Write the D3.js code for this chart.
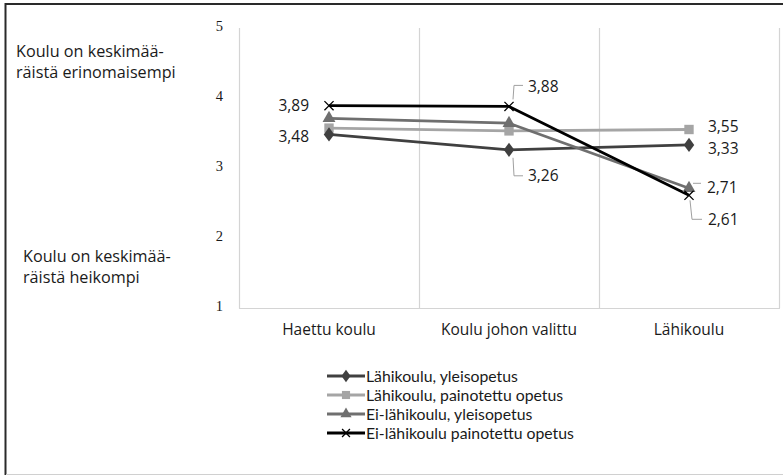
<!DOCTYPE html>
<html>
<head>
<meta charset="utf-8">
<script src="https://cdn.jsdelivr.net/npm/d3@7"></script>
<style>
  html, body { margin: 0; padding: 0; background: #fff; }
  svg { display: block; }
</style>
</head>
<body>
<svg id="chart" width="783" height="475"></svg>
<script>
// Categories along the x axis
const categories = ["Haettu koulu", "Koulu johon valittu", "Lähikoulu"];

// Series names (legend order)
const seriesNames = [
  "Lähikoulu, yleisopetus",
  "Lähikoulu, painotettu opetus",
  "Ei-lähikoulu, yleisopetus",
  "Ei-lähikoulu painotettu opetus"
];

// Mean scores per series
const lahiYleis = [3.48, 3.26, 3.33];
const lahiPainotettu = [3.57, 3.53, 3.55];
const eiLahiYleis = [3.71, 3.64, 2.71];
const eiLahiPainotettu = [3.89, 3.88, 2.61];

// Y-axis ticks
const yTicks = [1, 2, 3, 4, 5];

// Side annotations
const topNote = ["Koulu on keskimää-", "räistä erinomaisempi"];
const bottomNote = ["Koulu on keskimää-", "räistä heikompi"];

// Which points carry a value label: [series index, category index]
const labelled = [[3, 0], [0, 0], [3, 1], [0, 1], [1, 2], [0, 2], [2, 2], [3, 2]];

const seriesValues = [lahiYleis, lahiPainotettu, eiLahiYleis, eiLahiPainotettu];
const colors = ["#404040", "#a5a5a5", "#6f6f6f", "#000000"];
const shapes = ["diamond", "square", "triangle", "cross"];

const svg = d3.select("#chart");
const font = "'Open Sans', Lato, sans-serif";
const legendFont = "Lato, 'Open Sans', sans-serif";

// Outer frame (left, top and bottom edges)
svg.append("line").attr("x1", 5.5).attr("x2", 5.5).attr("y1", 3).attr("y2", 475)
  .attr("stroke", "#2a2a2a").attr("stroke-width", 2);
svg.append("line").attr("x1", 5).attr("x2", 783).attr("y1", 4).attr("y2", 4)
  .attr("stroke", "#2a2a2a").attr("stroke-width", 2);
svg.append("line").attr("x1", 6).attr("x2", 783).attr("y1", 474.5).attr("y2", 474.5)
  .attr("stroke", "#d0d0d0").attr("stroke-width", 1);

const plot = { left: 239, right: 779, top: 28, bottom: 308 };

const x = d3.scaleBand().domain(categories).range([plot.left, plot.right]).padding(0);
const y = d3.scaleLinear().domain([1, 5]).range([plot.bottom, plot.top]);
const cx = c => x(c) + x.bandwidth() / 2;

// Vertical category separators
svg.append("g").selectAll("line")
  .data(categories)
  .join("line")
  .attr("x1", d => x(d) + x.bandwidth() + 0.5)
  .attr("x2", d => x(d) + x.bandwidth() + 0.5)
  .attr("y1", plot.top).attr("y2", plot.bottom)
  .attr("stroke", "#d4d4d4").attr("stroke-width", 1.2);

// Axis lines
svg.append("line").attr("x1", plot.left + 0.5).attr("x2", plot.left + 0.5)
  .attr("y1", plot.top).attr("y2", plot.bottom + 0.5)
  .attr("stroke", "#d4d4d4").attr("stroke-width", 1.2);
svg.append("line").attr("x1", plot.left).attr("x2", plot.right + 1)
  .attr("y1", plot.bottom + 0.5).attr("y2", plot.bottom + 0.5)
  .attr("stroke", "#d4d4d4").attr("stroke-width", 1.2);

// Y tick labels
const yAxis = d3.axisLeft(y).tickValues(yTicks).tickSize(0).tickPadding(16)
  .tickFormat(d3.format("d"));
const yG = svg.append("g").attr("transform", `translate(${plot.left},0)`).call(yAxis);
yG.select(".domain").remove();
yG.selectAll("text").attr("font-family", "'Liberation Serif', 'Times New Roman', serif")
  .attr("font-size", 14.5).attr("fill", "#1a1a1a").attr("dy", "0.2em");

// X category labels
const xAxis = d3.axisBottom(x).tickSize(0).tickPadding(16);
const xG = svg.append("g").attr("transform", `translate(0,${plot.bottom})`).call(xAxis);
xG.select(".domain").remove();
xG.selectAll("text").attr("font-family", font).attr("font-size", 15.5).attr("fill", "#1a1a1a");

// Side annotations
function note(lines, x0, y0) {
  const t = svg.append("text").attr("font-family", font).attr("font-size", 16.2).attr("fill", "#1a1a1a");
  lines.forEach((l, i) => t.append("tspan").attr("x", x0).attr("y", y0 + i * 21).text(l));
}
note(topNote, 16, 57);
note(bottomNote, 23, 262);

// Marker drawing
function marker(g, shape, color, s) {
  if (shape === "diamond") {
    g.append("path").attr("d", d3.symbol(d3.symbolDiamond, s * 9)()).attr("fill", color)
      .attr("transform", "scale(1.15,0.9)");
  } else if (shape === "square") {
    g.append("path").attr("d", d3.symbol(d3.symbolSquare, s * 11)()).attr("fill", color);
  } else if (shape === "triangle") {
    g.append("path").attr("d", d3.symbol(d3.symbolTriangle, s * 9)()).attr("fill", color);
  } else {
    g.append("path").attr("d", d3.symbol(d3.symbolX, s * 7)()).attr("fill", "none")
      .attr("stroke", color).attr("stroke-width", 1.3);
  }
}

// Lines, drawn lightest series first so darker lines sit on top
const line = d3.line().x((d, i) => cx(categories[i])).y(d => y(d));
const drawOrder = [1, 0, 2, 3];
drawOrder.forEach(si => {
  svg.append("path").datum(seriesValues[si]).attr("d", line)
    .attr("fill", "none").attr("stroke", colors[si]).attr("stroke-width", 2.8)
    .attr("stroke-linejoin", "round");
});
drawOrder.forEach(si => {
  seriesValues[si].forEach((v, i) => {
    const g = svg.append("g").attr("transform", `translate(${cx(categories[i])},${y(v)})`);
    marker(g, shapes[si], colors[si], 8);
  });
});

// Value labels with leader lines
const fmt = v => d3.format(".2f")(v).replace(".", ",");
const labelLayer = svg.append("g").attr("font-family", font).attr("font-size", 15.5).attr("fill", "#1a1a1a");
const lead = svg.append("g").attr("stroke", "#a0a0a0").attr("stroke-width", 1).attr("fill", "none");
labelled.forEach(([si, ci]) => {
  const v = seriesValues[si][ci];
  const px = cx(categories[ci]);
  const py = y(v);
  let tx, ty, anchor = "start";
  if (ci === 0) {
    tx = px - 20; ty = py + (si === 0 ? 2 : 0); anchor = "end";
  } else if (ci === 1 && si === 3) {
    lead.append("path").attr("d", `M${px + 4},${py - 7}L${px + 5},${py - 21}H${px + 14}`);
    tx = px + 19; ty = py - 20;
  } else if (ci === 1 && si === 0) {
    lead.append("path").attr("d", `M${px + 4},${py + 8}L${px + 5},${py + 26}H${px + 14}`);
    tx = px + 19; ty = py + 26;
  } else if (ci === 2 && si === 2) {
    lead.append("path").attr("d", `M${px + 4},${py - 5}H${px + 12}`);
    tx = px + 18; ty = py - 1;
  } else if (ci === 2 && si === 3) {
    lead.append("path").attr("d", `M${px + 1},${py + 5}L${px + 3},${py + 24}H${px + 13}`);
    tx = px + 19; ty = py + 24;
  } else {
    tx = px + 19; ty = py + (si === 1 ? -3 : 3.5);
  }
  labelLayer.append("text").attr("x", tx).attr("y", ty).attr("dy", "0.35em")
    .attr("text-anchor", anchor).text(fmt(v));
});

// Legend
const legend = svg.append("g").attr("transform", "translate(327,376)");
seriesNames.forEach((name, i) => {
  const g = legend.append("g").attr("transform", `translate(0,${i * 19})`);
  g.append("line").attr("x1", 0).attr("x2", 38).attr("y1", 0).attr("y2", 0)
    .attr("stroke", colors[i]).attr("stroke-width", 2.8);
  const m = g.append("g").attr("transform", "translate(19,0)");
  marker(m, shapes[i], colors[i], 6);
  g.append("text").attr("x", 39).attr("y", 0).attr("dy", "0.35em")
    .attr("font-family", legendFont).attr("font-size", 15.8).attr("fill", "#1a1a1a").text(name);
});
</script>
</body>
</html>
